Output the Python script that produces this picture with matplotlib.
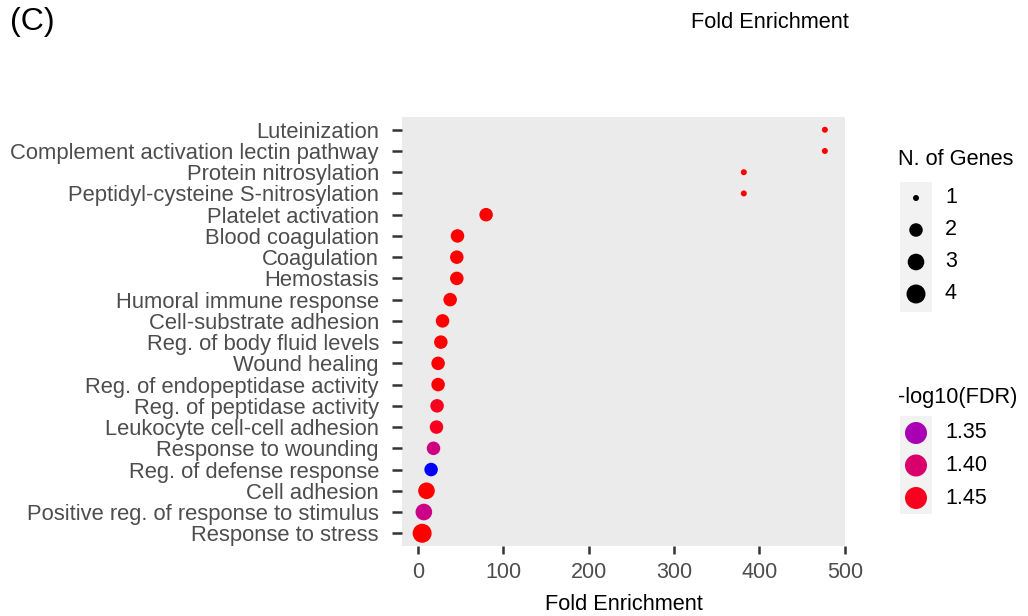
import numpy as np
import matplotlib
matplotlib.use("Agg")
import matplotlib.pyplot as plt
from matplotlib.patches import Rectangle

plt.rcParams['font.family'] = ['Liberation Sans', 'DejaVu Sans']

# GO terms, top of the chart first
terms = ["Luteinization", "Complement activation lectin pathway", "Protein nitrosylation",
         "Peptidyl-cysteine S-nitrosylation", "Platelet activation", "Blood coagulation",
         "Coagulation", "Hemostasis", "Humoral immune response", "Cell-substrate adhesion",
         "Reg. of body fluid levels", "Wound healing", "Reg. of endopeptidase activity",
         "Reg. of peptidase activity", "Leukocyte cell-cell adhesion", "Response to wounding",
         "Reg. of defense response", "Cell adhesion", "Positive reg. of response to stimulus",
         "Response to stress"]
fold = [476.6, 476.6, 381.7, 381.7, 80.0, 46.5, 45.7, 45.7, 37.9, 29.0,
        27.0, 23.8, 23.8, 22.6, 21.9, 18.4, 15.6, 10.2, 7.1, 5.1]
n_genes = [1, 1, 1, 1, 2, 2, 2, 2, 2, 2, 2, 2, 2, 2, 2, 2, 2, 3, 3, 4]
fdr = [1.46, 1.46, 1.46, 1.46, 1.46, 1.46, 1.46, 1.46, 1.46, 1.46,
       1.46, 1.46, 1.46, 1.45, 1.45, 1.385, 1.30, 1.46, 1.38, 1.46]

size_breaks = [1, 2, 3, 4]
color_breaks = [1.35, 1.40, 1.45]


# blue -> red gradient interpolated in Lab space (like scale_colour_gradient)
M = np.array([[0.4124, 0.3576, 0.1805], [0.2126, 0.7152, 0.0722], [0.0193, 0.1192, 0.9505]])
WHITE = np.array([0.95047, 1.0, 1.08883])


def srgb_to_lab(rgb):
    c = np.asarray(rgb, float)
    lin = np.where(c <= 0.04045, c / 12.92, ((c + 0.055) / 1.055) ** 2.4)
    xyz = M @ lin / WHITE
    f = np.where(xyz > 0.008856, np.cbrt(xyz), 7.787 * xyz + 16 / 116)
    return np.array([116 * f[1] - 16, 500 * (f[0] - f[1]), 200 * (f[1] - f[2])])


def lab_to_srgb(lab):
    L, a, b = lab
    fy = (L + 16) / 116
    f = np.array([fy + a / 500, fy, fy - b / 200])
    xyz = np.where(f ** 3 > 0.008856, f ** 3, (f - 16 / 116) / 7.787) * WHITE
    lin = np.linalg.inv(M) @ xyz
    c = np.where(lin <= 0.0031308, 12.92 * lin, 1.055 * np.clip(lin, 0, None) ** (1 / 2.4) - 0.055)
    return np.clip(c, 0, 1)


lab_lo = srgb_to_lab([0, 0, 1])
lab_hi = srgb_to_lab([1, 0, 0])
vmin, vmax = min(fdr), max(fdr)


def fdr_color(v):
    t = (v - vmin) / (vmax - vmin)
    return lab_to_srgb(lab_lo + t * (lab_hi - lab_lo))


# point area scale: diameter in px grows with sqrt of rescaled count
def gene_size(n):
    t = (n - min(size_breaks)) / (max(size_breaks) - min(size_breaks))
    d_px = 6 + 13 * np.sqrt(t)
    return (d_px * 72 / 100) ** 2


fig = plt.figure(figsize=(10.28, 6.16), dpi=100)
W, H = 1028, 616
ax = fig.add_axes([402 / W, 1 - 546 / H, (845 - 402) / W, (546 - 117) / H])
ax.set_facecolor('#EBEBEB')

ypos = np.arange(len(terms))[::-1]
ax.scatter(fold, ypos, s=[gene_size(n) for n in n_genes],
           c=[fdr_color(v) for v in fdr], edgecolors='none', zorder=3)

span = max(fold) - min(fold)
ax.set_xlim(min(fold) - 0.05 * span, max(fold) + 0.05 * span)
ax.set_ylim(-0.6, len(terms) - 0.4)
ax.set_xticks([0, 100, 200, 300, 400, 500])
ax.set_yticks(ypos)
ax.set_yticklabels(terms)
for s in ax.spines.values():
    s.set_visible(False)
ax.tick_params(axis='both', color='#333333', labelcolor='#4D4D4D', width=1.8)
ax.tick_params(axis='y', length=7.2, labelsize=15.8, pad=9.4)
ax.tick_params(axis='x', length=6, labelsize=15.5, pad=5.5)
ax.set_xlabel("Fold Enrichment", fontsize=15.7, color='black', labelpad=8)

fig.text(10 / W, 1 - 22 / H, "(C)", fontsize=23, va='center', ha='left')
fig.text(770 / W, 1 - 22 / H, "Fold Enrichment", fontsize=15.7, va='center', ha='center')

# legend for gene counts
lg1 = fig.add_axes([880 / W, 1 - 320 / H, 148 / W, 180 / H])
lg1.set_xlim(880, 1028)
lg1.set_ylim(320, 140)
lg1.axis('off')
lg1.text(898, 160, "N. of Genes", fontsize=15.7, va='center', ha='left')
lg1.add_patch(Rectangle((900, 182), 32, 130, facecolor='#F2F2F2', edgecolor='none'))
for i, n in enumerate(size_breaks):
    y = 198 + i * 32
    lg1.scatter([916], [y], s=gene_size(n), color='black', edgecolors='none')
    lg1.text(945, y, str(n), fontsize=15.5, va='center', ha='left')

# legend for -log10(FDR)
lg2 = fig.add_axes([880 / W, 1 - 520 / H, 148 / W, 140 / H])
lg2.set_xlim(880, 1028)
lg2.set_ylim(520, 380)
lg2.axis('off')
lg2.text(898, 398, "-log10(FDR)", fontsize=15.7, va='center', ha='left')
lg2.add_patch(Rectangle((900, 416), 32, 98, facecolor='#F2F2F2', edgecolor='none'))
for i, v in enumerate(color_breaks):
    y = 433 + i * 32.5
    lg2.scatter([916], [y], s=(22 * 0.72) ** 2, color=fdr_color(v), edgecolors='none')
    lg2.text(945, y, f"{v:.2f}", fontsize=15.5, va='center', ha='left')

fig.savefig("out.png", dpi=100)
